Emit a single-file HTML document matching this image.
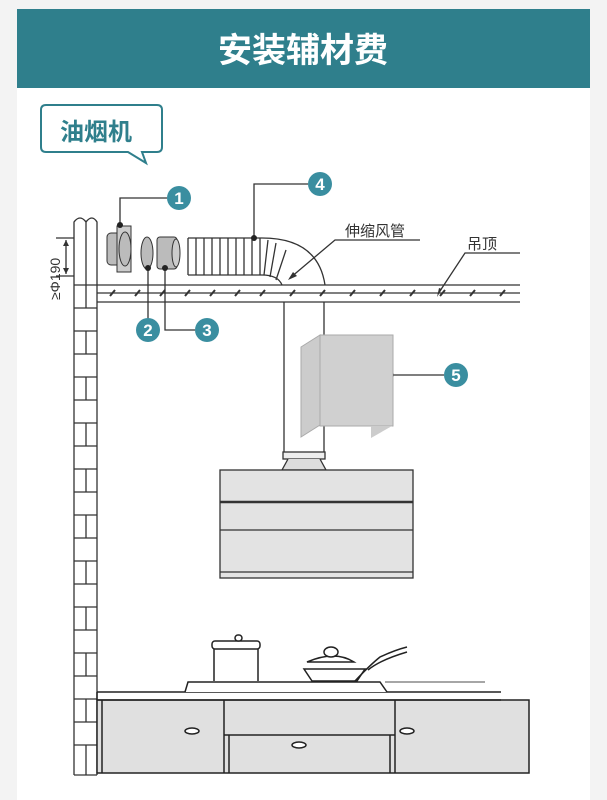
<!DOCTYPE html>
<html><head><meta charset="utf-8"><style>
body{margin:0;width:607px;height:800px;background:#f3f3f3;overflow:hidden;font-family:"Liberation Sans","Noto Sans CJK SC",sans-serif}
</style></head><body>
<svg width="607" height="800" xmlns="http://www.w3.org/2000/svg" style="position:absolute;left:0;top:0">
<rect x="17" y="88" width="573" height="712" fill="#fff"/>
<rect x="17" y="9" width="573" height="79" fill="#2f7f8c"/>
<text x="303" y="62" text-anchor="middle" font-size="34" font-weight="bold" fill="#fff" font-family="Liberation Sans,Noto Sans CJK SC,sans-serif">安装辅材费</text>
<path d="M46 105 H157 Q162 105 162 110 V147 Q162 152 157 152 H142 L146 163 L128 152 H46 Q41 152 41 147 V110 Q41 105 46 105Z" fill="#fff" stroke="#2f7f8c" stroke-width="2"/>
<text x="60" y="140" font-size="24" font-weight="bold" fill="#2f7f8c" font-family="Liberation Sans,Noto Sans CJK SC,sans-serif">油烟机</text>
<g stroke="#333" stroke-width="1.3" fill="none">
<path d="M74 775 V222 Q80 214 86 222 Q92 214 97 222 V775"/>
<line x1="86" y1="222" x2="86" y2="285"/>
<line x1="74" y1="285" x2="97" y2="285"/>
<path d="M74 308H97M74 331H97M74 354H97M74 377H97M74 400H97M74 423H97M74 446H97M74 469H97M74 492H97M74 515H97M74 538H97M74 561H97M74 584H97M74 607H97M74 630H97M74 653H97M74 676H97M74 699H97M74 722H97M74 745H97M74 775H97"/>
<path d="M86 285V308M86 331V354M86 377V400M86 423V446M86 469V492M86 515V538M86 561V584M86 607V630M86 653V676M86 699V722M86 745V775"/>
<path d="M97 285H520M97 293H520M97 302H520"/>
<path d="M110 296l5-6M135 296l5-6M160 296l5-6M185 296l5-6M210 296l5-6M235 296l5-6M260 296l5-6M290 296l5-6M320 296l5-6M350 296l5-6M380 296l5-6M410 296l5-6M440 296l5-6M470 296l5-6M500 296l5-6" stroke-width="2"/>
<line x1="66" y1="240" x2="66" y2="274"/>
<path d="M56 238H74M56 276H74"/>
<path d="M188 238H262 Q318 238 325 285 M188 275H262 Q278 275 282 285 M188 238V275"/>
<path d="M196 238V275M204 238V275M212 238V275M220 238V275M228 238V275M236 238V275M244 238V275M252 238V275M260 238V275M268 240L264 275M276 243L270 277M286 250L276 280"/>
<path d="M284 302V455M324 302V455"/>
<path d="M290 278L335 240H420"/>
<path d="M438 294L465 253H520"/>
<path d="M120 225V198H167M254 238V184H308M148 263V330M165 263V330H195M392 375H444"/>
</g>
<path d="M63 246L66 240L69 246ZM63 268L66 274L69 268ZM288 280L297 276L293 272ZM437 297L442 289L439 288Z" fill="#333"/>
<text x="345" y="236" font-size="15" fill="#333" font-family="Liberation Sans,Noto Sans CJK SC,sans-serif">伸缩风管</text>
<text x="467" y="249" font-size="15" fill="#333" font-family="Liberation Sans,Noto Sans CJK SC,sans-serif">吊顶</text>
<text transform="translate(60,300) rotate(-90)" font-size="14" fill="#333">≥Φ190</text>
<rect x="107" y="233" width="18" height="32" rx="4" fill="#bbb" stroke="#333"/>
<rect x="117" y="226" width="14" height="46" fill="#ccc" stroke="#333"/>
<ellipse cx="125" cy="249" rx="6" ry="17" fill="#bbb" stroke="#333"/>
<ellipse cx="147" cy="253" rx="6" ry="16" fill="#bbb" stroke="#333"/>
<rect x="157" y="237" width="20" height="32" rx="3" fill="#bbb" stroke="#333"/>
<ellipse cx="176" cy="253" rx="4" ry="14" fill="#ccc" stroke="#333"/>
<g fill="#222"><circle cx="120" cy="225" r="3"/><circle cx="254" cy="238" r="3"/><circle cx="148" cy="268" r="3"/><circle cx="165" cy="268" r="3"/><circle cx="391" cy="375" r="3"/></g>
<path d="M301 347L320 335V425L301 437Z" fill="#ccc" stroke="#aaa"/>
<rect x="320" y="335" width="73" height="91" fill="#d0d0d0" stroke="#aaa"/>
<path d="M371 426H392L371 438Z" fill="#ccc"/>
<g stroke="#333" stroke-width="1.3">
<rect x="283" y="452" width="42" height="7" fill="#eee"/>
<path d="M288 459L282 470H326L320 459" fill="#ddd"/>
<rect x="220" y="470" width="193" height="108" fill="#e3e3e3"/>
<line x1="220" y1="502" x2="413" y2="502" stroke-width="2.5"/>
<line x1="220" y1="530" x2="413" y2="530"/>
<line x1="220" y1="572" x2="413" y2="572"/>
</g>
<g fill="#3a8ea0"><circle cx="179" cy="198" r="12"/><circle cx="320" cy="184" r="12"/><circle cx="148" cy="330" r="12"/><circle cx="207" cy="330" r="12"/><circle cx="456" cy="375" r="12"/></g>
<g fill="#fff" font-size="17" font-weight="bold" text-anchor="middle"><text x="179" y="204">1</text><text x="320" y="190">4</text><text x="148" y="336">2</text><text x="207" y="336">3</text><text x="456" y="381">5</text></g>
<g stroke="#222" stroke-width="1.5">
<rect x="97" y="700" width="432" height="73" fill="#e0e0e0"/>
<path d="M97 692H501M97 700H501M97 692V700" fill="none"/>
<path d="M185 692L188 682H380L387 692" fill="#fff"/>
<line x1="385" y1="682" x2="485" y2="682" stroke="#888"/>
<path d="M102 700V773M224 700V773M229 735V773M395 700V773M390 735V773M224 735H395" fill="none"/>
<path d="M214 681V648H258V681" fill="#fff"/>
<rect x="212" y="641" width="48" height="8" rx="3" fill="#fff"/>
<rect x="235" y="635" width="7" height="6" rx="3" fill="#fff"/>
<path d="M304 669H365L357 681H312Z" fill="#fff"/>
<path d="M307 662Q335 650 354 662Z" fill="#fff"/>
<ellipse cx="331" cy="652" rx="7" ry="5" fill="#fff"/>
<path d="M355 681Q370 665 380 657Q395 650 407 647M368 670Q380 660 407 652" fill="none"/>
<ellipse cx="192" cy="731" rx="7" ry="3" fill="#fff"/>
<ellipse cx="299" cy="745" rx="7" ry="3" fill="#fff"/>
<ellipse cx="407" cy="731" rx="7" ry="3" fill="#fff"/>
</g>
</svg>
</body></html>
